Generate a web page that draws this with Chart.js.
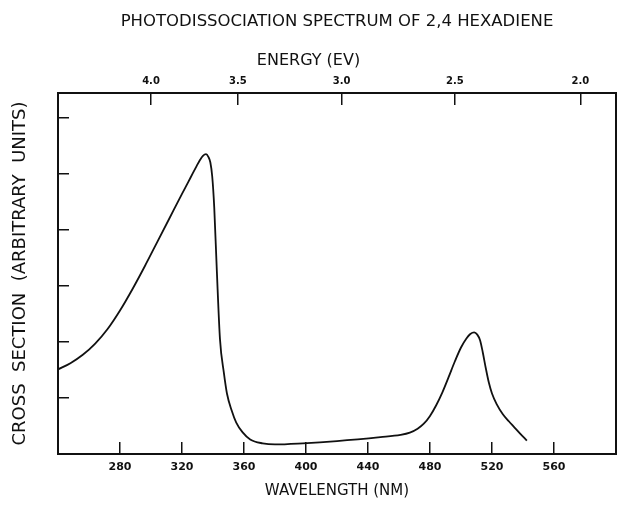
<!DOCTYPE html>
<html>
<head>
<meta charset="utf-8">
<script src="https://cdn.jsdelivr.net/npm/chart.js@4/dist/chart.umd.min.js"></script>
<style>
  html, body { margin: 0; padding: 0; background: #fff; }
  canvas { display: block; }
</style>
</head>
<body>
<canvas id="spectrum" width="617" height="509"></canvas>
<script>
// Cross section (arbitrary units) against wavelength (nm)
const wavelengths = [240, 248, 256, 264, 272, 280, 288, 296, 304, 312, 320, 324, 327, 329.5, 331.5, 333.5, 335.5, 337, 338.3, 339.5, 340.8, 342.5, 344.5, 347, 349, 352, 355, 359, 364, 372, 380, 398, 420, 448, 461, 467, 472, 476, 480, 484, 488, 492, 496, 500, 503.5, 506, 508.5, 510.5, 512.3, 514, 516, 518, 520, 523, 527, 531, 534, 538, 542.5];
const crossSection = [1.51, 1.62, 1.77, 1.97, 2.23, 2.56, 2.94, 3.35, 3.78, 4.21, 4.64, 4.85, 5.01, 5.14, 5.24, 5.32, 5.35, 5.30, 5.20, 4.95, 4.40, 3.25, 2.05, 1.45, 1.08, 0.78, 0.56, 0.39, 0.26, 0.19, 0.17, 0.19, 0.23, 0.30, 0.34, 0.38, 0.45, 0.54, 0.68, 0.87, 1.10, 1.37, 1.65, 1.90, 2.06, 2.14, 2.17, 2.13, 2.03, 1.82, 1.53, 1.27, 1.08, 0.89, 0.71, 0.58, 0.49, 0.37, 0.24];

const wavelengthTicks = [280, 320, 360, 400, 440, 480, 520, 560];
// energy ticks sit where the original drawing put them along the wavelength scale
const energyTickLabels = ['4.0', '3.5', '3.0', '2.5', '2.0'];
const energyTickPositions = [300, 356, 423, 496, 577];
const crossSectionTicks = [1, 2, 3, 4, 5, 6];

const ink = '#111';
const family = "'DejaVu Sans', sans-serif";

// heights of the two text rows above the plot (padding + line height)
const titleBox = 11.4 + 16.5 * 1.2;
const energyBox = 20.2 + 16 * 1.2;

function fixedTicks(values) {
    return function(scale) {
        scale.ticks = values.map(v => ({ value: v }));
    };
}

const points = wavelengths.map((w, i) => ({ x: w, y: crossSection[i] }));

new Chart(document.getElementById('spectrum'), {
    type: 'line',
    data: {
        datasets: [{
            data: points,
            borderColor: ink,
            borderWidth: 1.8,
            pointRadius: 0,
            fill: false,
            cubicInterpolationMode: 'monotone'
        }]
    },
    options: {
        responsive: false,
        animation: false,
        layout: { padding: 0 },
        plugins: {
            legend: { display: false },
            tooltip: { enabled: false },
            title: {
                display: true,
                fullSize: false,
                text: 'PHOTODISSOCIATION SPECTRUM OF 2,4 HEXADIENE',
                color: ink,
                font: { family: family, size: 16.5, weight: 'normal' },
                padding: { top: 11.4, bottom: 0 }
            },
            // top axis label
            subtitle: {
                display: true,
                fullSize: true,
                text: 'ENERGY (EV)',
                color: ink,
                font: { family: family, size: 16, weight: 'normal' },
                padding: { top: 20.2, bottom: 0 }
            }
        },
        scales: {
            x: {
                type: 'linear',
                position: 'bottom',
                min: 240,
                max: 600,
                afterBuildTicks: fixedTicks(wavelengthTicks),
                afterFit: function(scale) { scale.height = 55; },
                grid: { drawOnChartArea: false, tickLength: -12, color: ink, lineWidth: 1.5 },
                border: { color: ink, width: 2 },
                ticks: {
                    color: ink,
                    padding: 19,
                    font: { family: family, size: 11, weight: 'bold' },
                    callback: v => String(v)
                },
                title: {
                    display: true,
                    text: 'WAVELENGTH (NM)',
                    color: ink,
                    font: { family: family, size: 15 },
                    padding: { top: 0, bottom: 9 }
                }
            },
            x2: {
                type: 'linear',
                axis: 'x',
                position: 'top',
                min: 240,
                max: 600,
                afterBuildTicks: fixedTicks(energyTickPositions),
                afterFit: function(scale) { scale.height = 93 - titleBox - energyBox; },
                grid: { drawOnChartArea: false, tickLength: -12, color: ink, lineWidth: 1.5 },
                border: { color: ink, width: 2 },
                ticks: {
                    color: ink,
                    padding: 18,
                    font: { family: family, size: 10, weight: 'bold' },
                    callback: (v, i) => energyTickLabels[i]
                }
            },
            y: {
                type: 'linear',
                position: 'left',
                min: 0,
                max: 6.44,
                afterBuildTicks: fixedTicks(crossSectionTicks),
                afterFit: function(scale) { scale.width = 58; },
                grid: { drawOnChartArea: false, tickLength: -11, color: ink, lineWidth: 1.5 },
                border: { color: ink, width: 2 },
                ticks: { display: false },
                title: {
                    display: true,
                    text: 'CROSS  SECTION  (ARBITRARY  UNITS)',
                    color: ink,
                    font: { family: family, size: 18 },
                    padding: { top: 10, bottom: 0 }
                }
            },
            yRight: {
                type: 'linear',
                axis: 'y',
                position: 'right',
                min: 0,
                max: 6.44,
                afterBuildTicks: function(scale) { scale.ticks = []; },
                afterFit: function(scale) { scale.width = 1; },
                grid: { display: false },
                border: { color: ink, width: 2 },
                ticks: { display: false }
            }
        }
    }
});
</script>
</body>
</html>
